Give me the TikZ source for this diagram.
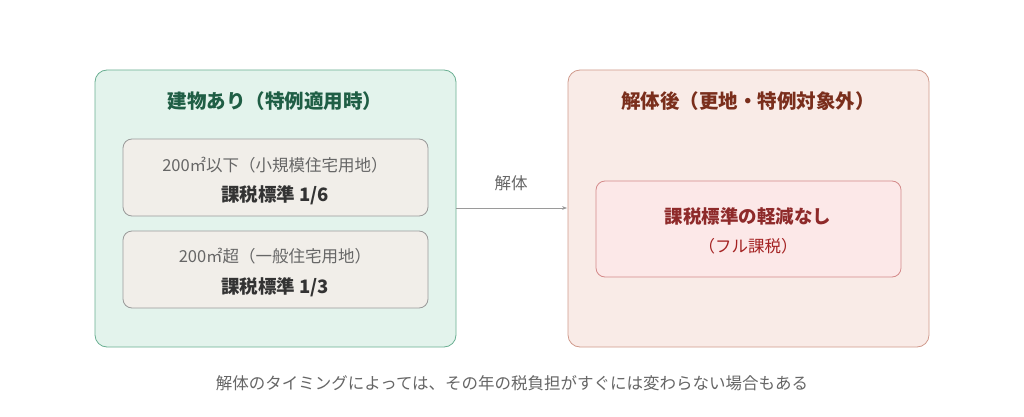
\documentclass[tikz,border=0pt]{standalone}
\usepackage{fontspec}
\setmainfont{Noto Sans CJK JP}
\usetikzlibrary{arrows.meta}
\definecolor{gfill}{HTML}{E3F3EC}\definecolor{gdraw}{HTML}{6AAF92}\definecolor{gtext}{HTML}{1F5E45}
\definecolor{ifill}{HTML}{F1EEE9}\definecolor{idraw}{HTML}{9A9A9A}
\definecolor{rfill}{HTML}{F9EBE7}\definecolor{rdraw}{HTML}{D09A8C}\definecolor{rtext}{HTML}{7A2E1C}
\definecolor{pfill}{HTML}{FCE8E8}\definecolor{pdraw}{HTML}{D48A8A}\definecolor{ptext}{HTML}{8E2A2A}
\definecolor{gray1}{HTML}{666666}\definecolor{dark}{HTML}{333333}
\begin{document}
\begin{tikzpicture}[x=1pt,y=-1pt,
 box/.style={rounded corners=12pt,line width=0.8pt},
 small/.style={font=\fontsize{16.5}{19}\selectfont,text=gray1},
 big/.style={font=\fontsize{18.5}{22}\selectfont\bfseries},
 title/.style={font=\fontsize{19.5}{23}\selectfont\bfseries}]
\useasboundingbox[fill=white](0,0) rectangle (1024,417);
\draw[box,fill=gfill,draw=gdraw] (95,70) rectangle (456,347);
\node[title,text=gtext] (lt) at (275,101) {建物あり（特例適用時）};
\draw[box,rounded corners=9pt,fill=ifill,draw=idraw] (123,139) rectangle (428,216);
\node[small] (a1) at (275,165) {200㎡以下（小規模住宅用地）};
\node[big,text=dark] (a2) at (275,195) {課税標準 1/6};
\draw[box,rounded corners=9pt,fill=ifill,draw=idraw] (123,231) rectangle (428,308);
\node[small] (b1) at (275,256) {200㎡超（一般住宅用地）};
\node[big,text=dark] (b2) at (275,287) {課税標準 1/3};
\draw[box,fill=rfill,draw=rdraw] (568,70) rectangle (929,347);
\node[title,text=rtext] (rt) at (748,101) {解体後（更地・特例対象外）};
\draw[box,rounded corners=9pt,fill=pfill,draw=pdraw] (596,181) rectangle (901,277);
\node[big,text=ptext] (c1) at (748,216) {課税標準の軽減なし};
\node[small,text=ptext!80!red] (c2) at (748,246) {（フル課税）};
\coordinate (s) at (456,208); \coordinate (e) at (567,208);
\draw[-{Stealth[length=5pt]},draw=idraw,line width=0.6pt] (s) -- (e);
\node[small] (lab) at (511,183) {解体};
\node[small] (cap) at (512,383) {解体のタイミングによっては、その年の税負担がすぐには変わらない場合もある};
\end{tikzpicture}
\end{document}
